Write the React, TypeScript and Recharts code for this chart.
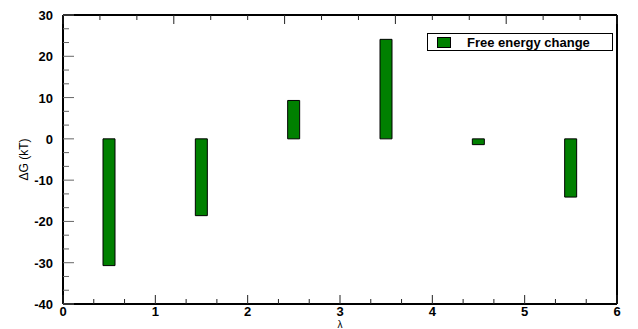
import React from "react";
import {
  ComposedChart, Bar, XAxis, YAxis, Legend,
} from "recharts";

// λ windows and free energy change per window (kT)
const lambdas = [0.5, 1.5, 2.5, 3.5, 4.5, 5.5];
const deltaG = [-30.7, -18.6, 9.3, 24.1, -1.4, -14.1];

const xTicks = Array.from({ length: 19 }, (_, i) => i / 3);
const yTicks = Array.from({ length: 22 }, (_, i) => -40 + (i * 10) / 3);

const data = lambdas.map((x, i) => ({ x, dG: deltaG[i] }));

const FONT = "'Liberation Sans', Arial, Helvetica, sans-serif";
const GREEN = "#008000";

const isMajor = (v: number, step: number) =>
  Math.abs(v / step - Math.round(v / step)) < 1e-6;

const BottomTick = ({ x, y, payload }: any) => {
  const major = isMajor(payload.value, 1);
  return (
    <g>
      <line x1={x} x2={x} y1={y} y2={y - (major ? 9 : 5)} stroke="#222" strokeWidth={1} />
      {major && (
        <text x={x} y={y + 12} textAnchor="middle" fontFamily={FONT}
          fontWeight="bold" fontSize={13} fill="#000">
          {Math.round(payload.value)}
        </text>
      )}
    </g>
  );
};

const TopTick = ({ x, y, payload }: any) => {
  const major = isMajor(payload.value, 1);
  return <line x1={x} x2={x} y1={y} y2={y + (major ? 9 : 5)} stroke="#222" strokeWidth={1} />;
};

const LeftTick = ({ x, y, payload }: any) => {
  const major = isMajor(payload.value, 10);
  return (
    <g>
      <line x1={x} x2={x + (major ? 11 : 6)} y1={y} y2={y} stroke="#666" strokeWidth={1} />
      {major && (
        <text x={x - 10} y={y + 5} textAnchor="end" fontFamily={FONT}
          fontWeight="bold" fontSize={13} fill="#000">
          {Math.round(payload.value)}
        </text>
      )}
    </g>
  );
};

const RightTick = ({ x, y, payload }: any) => {
  const major = isMajor(payload.value, 10);
  return <line x1={x} x2={x - (major ? 11 : 6)} y1={y} y2={y} stroke="#666" strokeWidth={1} />;
};

const LegendBox = () => (
  <div style={{
    border: "1px solid #000", background: "#fff", width: 184, height: 16,
    display: "flex", alignItems: "center", fontFamily: FONT,
    fontWeight: "bold", fontSize: 13, color: "#000",
  }}>
    <span style={{
      display: "inline-block", width: 12, height: 9, background: GREEN,
      border: "1px solid #000", marginLeft: 9, marginRight: 16,
    }} />
    Free energy change
  </div>
);

export default function App() {
  return (
    <div style={{ position: "absolute", left: 0, top: 0, background: "#fff" }}>
      <ComposedChart width={638} height={329} data={data}
        margin={{ top: 0, right: 0, bottom: 0, left: 0 }}>
        <XAxis dataKey="x" type="number" domain={[0, 6]} ticks={xTicks}
          interval={0} height={25} tickSize={0} tickMargin={0} tickLine={false}
          axisLine={{ stroke: "#000", strokeWidth: 2 }} tick={<BottomTick />}
          label={{ value: "λ", position: "insideBottom", offset: 1,
            style: { fontFamily: FONT, fontSize: 10, fill: "#000" } }} />
        <XAxis xAxisId="top" orientation="top" type="number" domain={[0, 6]}
          ticks={xTicks} interval={0} height={15} tickSize={0} tickMargin={0}
          tickLine={false} axisLine={{ stroke: "#000", strokeWidth: 2 }} tick={<TopTick />} />
        <YAxis type="number" domain={[-40, 30]} ticks={yTicks} interval={0}
          width={63} tickSize={0} tickMargin={0} tickLine={false}
          axisLine={{ stroke: "#000", strokeWidth: 2 }} tick={<LeftTick />}
          label={{ value: "ΔG (kT)", angle: -90, position: "insideLeft", offset: 24,
            style: { fontFamily: FONT, fontSize: 12, fill: "#000", textAnchor: "middle" } }} />
        <YAxis yAxisId="right" orientation="right" type="number" domain={[-40, 30]}
          ticks={yTicks} interval={0} width={21} tickSize={0} tickMargin={0}
          tickLine={false} axisLine={{ stroke: "#000", strokeWidth: 2 }} tick={<RightTick />} />
        <Legend content={<LegendBox />} layout="horizontal" verticalAlign="middle" align="center"
          wrapperStyle={{ top: 33, left: 427, width: 186 }} />
        <Bar dataKey="dG" name="Free energy change" barSize={12} fill={GREEN}
          stroke="#000" strokeWidth={1} isAnimationActive={false} />
      </ComposedChart>
    </div>
  );
}
